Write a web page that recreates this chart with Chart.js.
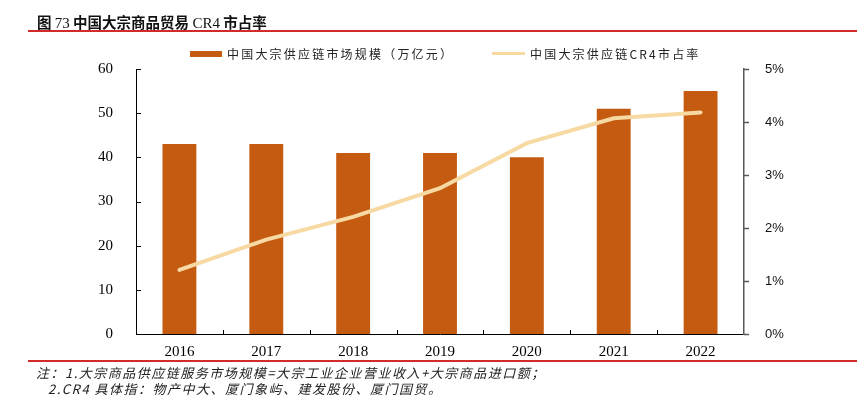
<!DOCTYPE html>
<html>
<head>
<meta charset="utf-8">
<script src="https://cdn.jsdelivr.net/npm/chart.js@4.4.0/dist/chart.umd.min.js"></script>
<style>
  html, body { margin: 0; padding: 0; background: #fff; }
  #wrap { position: relative; width: 857px; height: 396px; overflow: hidden; }
  #box { position: absolute; left: 0; top: 0; width: 857px; height: 396px; }
  .title { position: absolute; left: 37px; top: 11px; font: bold 14.5px "Noto Sans CJK SC", sans-serif; color: #111; white-space: nowrap; }
  .title .lat { font-family: "Liberation Serif", serif; font-weight: normal; font-size: 15px; }
  .rule { position: absolute; left: 28px; right: 0; height: 2px; background: #d42a2a; }
  .legend { position: absolute; top: 46px; font: 12px "Noto Sans CJK SC", sans-serif; letter-spacing: 2.2px; color: #222; white-space: nowrap; line-height: 16px; }
  .legend i { position: absolute; display: block; }
  .note { position: absolute; font: italic 13px "Noto Sans CJK SC", sans-serif; letter-spacing: 1.5px; color: #222; white-space: nowrap; }
</style>
</head>
<body>
<div id="wrap">
  <div id="box"><canvas id="chart"></canvas></div>
  <div class="title">图 <span class="lat">73</span> 中国大宗商品贸易 <span class="lat">CR4</span> 市占率</div>
  <div class="rule" style="top:30px"></div>
  <div class="legend" style="left:227px"><i style="left:-37px;top:5px;width:32px;height:6px;background:#C55A11"></i>中国大宗供应链市场规模（万亿元）</div>
  <div class="legend" style="left:530px"><i style="left:-38px;top:6px;width:33px;height:3px;background:#F7D9A3"></i>中国大宗供应链CR4市占率</div>
  <div class="rule" style="top:360px"></div>
  <div class="note" style="left:36px;top:363px">注：1.大宗商品供应链服务市场规模=大宗工业企业营业收入+大宗商品进口额；</div>
  <div class="note" style="left:48px;top:379px">2.CR4 具体指：物产中大、厦门象屿、建发股份、厦门国贸。</div>
</div>
<script>
const years = ['2016', '2017', '2018', '2019', '2020', '2021', '2022'];
const marketSize = [43, 43, 41, 41, 40, 51, 55];
const cr4Share = [0.0121, 0.0178, 0.0221, 0.0275, 0.036, 0.0407, 0.0418];
const leftTicks = [0, 10, 20, 30, 40, 50, 60];
const rightTicks = [0, 0.01, 0.02, 0.03, 0.04, 0.05];

// small tick marks like the original: inside on the left and bottom, outside on the right
const tickMarks = {
    id: 'tickMarks',
    afterDraw(chart) {
        const c = chart.ctx;
        const y = chart.scales.y, y1 = chart.scales.y1, x = chart.scales.x;
        const area = chart.chartArea;
        c.save();
        c.lineWidth = 1;
        c.strokeStyle = '#000';
        leftTicks.forEach(v => {
            const p = Math.round(y.getPixelForValue(v)) + 0.5;
            c.beginPath(); c.moveTo(area.left, p); c.lineTo(area.left + 5, p); c.stroke();
        });
        for (let i = 1; i < years.length; i++) {
            const p = Math.round((x.getPixelForValue(i - 1) + x.getPixelForValue(i)) / 2) + 0.5;
            c.beginPath(); c.moveTo(p, area.bottom); c.lineTo(p, area.bottom - 4); c.stroke();
        }
        c.strokeStyle = '#595959';
        c.lineWidth = 1.5;
        rightTicks.forEach(v => {
            const p = Math.round(y1.getPixelForValue(v)) + 0.5;
            c.beginPath(); c.moveTo(area.right, p); c.lineTo(area.right + 5, p); c.stroke();
        });
        c.restore();
    }
};

new Chart(document.getElementById('chart'), {
    data: {
        labels: years,
        datasets: [{
            type: 'line',
            label: '中国大宗供应链CR4市占率',
            data: cr4Share,
            yAxisID: 'y1',
            borderColor: '#F7D9A3',
            borderWidth: 4,
            borderCapStyle: 'round',
            pointRadius: 0,
            tension: 0,
            order: 0
        }, {
            type: 'bar',
            label: '中国大宗供应链市场规模（万亿元）',
            data: marketSize,
            yAxisID: 'y',
            backgroundColor: '#C55A11',
            categoryPercentage: 1,
            barPercentage: 0.39,
            order: 1
        }]
    },
    options: {
        responsive: true,
        maintainAspectRatio: false,
        animation: false,
        layout: { padding: { top: 69, left: 0, right: 0, bottom: 0 } },
        plugins: { legend: { display: false }, tooltip: { enabled: false } },
        scales: {
            x: {
                grid: { display: false },
                border: { display: true, color: '#000', width: 1 },
                ticks: { color: '#000', padding: 1, font: { family: 'Liberation Serif', size: 15 } },
                afterFit(s) { s.height = 62; }
            },
            y: {
                position: 'left',
                min: 0, max: 60,
                grid: { display: false },
                border: { display: true, color: '#000', width: 1 },
                ticks: { stepSize: 10, color: '#000', padding: 15, font: { family: 'Liberation Serif', size: 15 } },
                afterFit(s) { s.width = 136; }
            },
            y1: {
                position: 'right',
                min: 0, max: 0.05,
                grid: { display: false, drawOnChartArea: false },
                border: { display: true, color: '#595959', width: 1.5 },
                ticks: {
                    stepSize: 0.01, color: '#111', padding: 13,
                    font: { family: 'Liberation Sans', size: 13 },
                    callback: v => Math.round(v * 100) + '%'
                },
                afterFit(s) { s.width = 113; }
            }
        }
    },
    plugins: [tickMarks]
});
</script>
</body>
</html>
